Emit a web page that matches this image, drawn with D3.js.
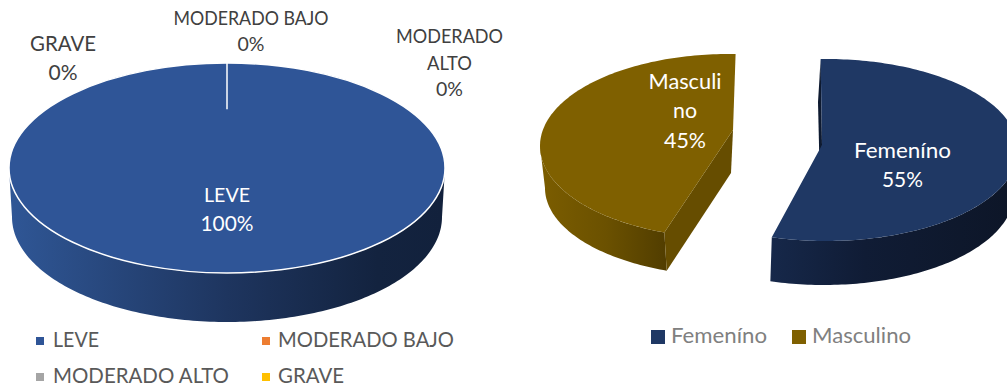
<!DOCTYPE html>
<html>
<head>
<meta charset="utf-8">
<script src="https://cdn.jsdelivr.net/npm/d3@7"></script>
<style>
  html, body { margin: 0; padding: 0; background: #fff; overflow: hidden; }
  text { font-family: Lato, "Open Sans", sans-serif; }
</style>
</head>
<body>
<svg id="chart" width="1007" height="388"></svg>
<script>
var severityNames = ['LEVE', 'MODERADO BAJO', 'MODERADO ALTO', 'GRAVE'];
var severityValues = [100, 0, 0, 0];
var severityColors = ['#2f5597', '#ed7d31', '#a5a5a5', '#ffc000'];

var sexNames = ['Femenino', 'Masculino'];
var sexLegendNames = ['Femeníno', 'Masculino'];
var sexValues = [55, 45];
var sexColors = ['#1f3864', '#7f6000'];

var svg = d3.select('#chart');
var defs = svg.append('defs');
var tau = Math.PI * 2;
var rad = d3.scaleLinear().domain([0, 360]).range([0, tau]);

var pie = d3.pie().sort(null).value(function(d) { return d; });
var line = d3.line();

// ellipse point for an angle clockwise from the top
function onEllipse(e, a) {
  return [e.cx + e.rx * Math.sin(a), e.cy - e.ry * Math.cos(a)];
}

function arcPoints(e, a0, a1) {
  var n = Math.max(2, Math.ceil(Math.abs(a1 - a0) / 0.02));
  return d3.range(n + 1).map(function(i) {
    return onEllipse(e, a0 + (a1 - a0) * i / n);
  });
}

function gradient(id, x1, x2, stops) {
  var g = defs.append('linearGradient')
    .attr('id', id)
    .attr('gradientUnits', 'userSpaceOnUse')
    .attr('x1', x1).attr('x2', x2).attr('y1', 0).attr('y2', 0);
  stops.forEach(function(s) {
    g.append('stop').attr('offset', s[0]).attr('stop-color', s[1]);
  });
  return 'url(#' + id + ')';
}

// outer wall, only the part turned to the viewer
function drawWall(g, slice, top, bottom, rot, fill) {
  var a0 = Math.max(slice.startAngle + rot, rad(90));
  var a1 = Math.min(slice.endAngle + rot, rad(270));
  if (a1 <= a0) return;
  var pts = arcPoints(top, a0, a1).concat(arcPoints(bottom, a1, a0));
  g.append('path').attr('d', line(pts) + 'Z').attr('fill', fill);
}

function drawCut(g, pts, fill) {
  g.append('path').attr('d', line(pts) + 'Z').attr('fill', fill);
}

function drawTop(g, slice, top, hub, rot, fill) {
  var pts = [hub].concat(arcPoints(top, slice.startAngle + rot, slice.endAngle + rot));
  g.append('path').attr('d', line(pts) + 'Z').attr('fill', fill);
}

// rows: text, centre x, baseline, colour, size, width
function drawLabels(rows) {
  svg.append('g').selectAll('text').data(rows).enter()
    .append('text')
    .attr('x', function(d) { return d[1]; })
    .attr('y', function(d) { return d[2]; })
    .attr('text-anchor', 'middle')
    .attr('fill', function(d) { return d[3]; })
    .attr('font-size', function(d) { return d[4]; })
    .attr('textLength', function(d) { return d[5]; })
    .attr('lengthAdjust', 'spacingAndGlyphs')
    .text(function(d) { return d[0]; });
}

function drawLegend(items, size, textFill) {
  var lg = svg.append('g').selectAll('g').data(items).enter().append('g');
  lg.append('rect')
    .attr('x', function(d) { return d.x; })
    .attr('y', function(d) { return d.y; })
    .attr('width', function(d) { return d.s; })
    .attr('height', function(d) { return d.s; })
    .attr('fill', function(d) { return d.color; });
  lg.append('text')
    .attr('x', function(d) { return d.tx; })
    .attr('y', function(d) { return d.base; })
    .attr('font-size', size)
    .attr('fill', textFill)
    .attr('textLength', function(d) { return d.w; })
    .attr('lengthAdjust', 'spacingAndGlyphs')
    .text(function(d) { return d.name; });
}

// ---- left pie
var leftTop = { cx: 227, cy: 168, rx: 218, ry: 105 };
var leftBottom = { cx: 227, cy: 217, rx: 215, ry: 105 };
var leftG = svg.append('g');
var leftSlices = pie(severityValues);
var leftSide = gradient('leftSide', 12, 442, [[0, '#2f5695'], [0.5, '#1e355f'], [0.85, '#13233f'], [1, '#12213c']]);

drawWall(leftG, leftSlices[0], leftTop, leftBottom, 0, leftSide);
drawTop(leftG, leftSlices[0], leftTop, [leftTop.cx, leftTop.cy], 0, severityColors[0]);
leftG.append('ellipse')
  .attr('cx', leftTop.cx).attr('cy', leftTop.cy)
  .attr('rx', leftTop.rx).attr('ry', leftTop.ry)
  .attr('fill', 'none').attr('stroke', '#fff').attr('stroke-width', 1.5);

// the empty slices collapse into one white spoke
leftSlices.filter(function(s) { return s.value === 0; }).slice(0, 1).forEach(function(s) {
  var p = onEllipse(leftTop, s.endAngle % tau);
  leftG.append('line')
    .attr('x1', p[0]).attr('y1', p[1])
    .attr('x2', leftTop.cx).attr('y2', d3.interpolateNumber(p[1], leftTop.cy)(0.44))
    .attr('stroke', '#fff').attr('stroke-width', 1.5);
});

var dark = '#404040';
drawLabels([
  [severityNames[1], 251, 25, dark, 19, 155],
  [severityValues[1] + '%', 251, 51, dark, 19.5, 27],
  [severityNames[3], 63, 51, dark, 21, 66],
  [severityValues[3] + '%', 63, 80, dark, 21, 29],
  ['MODERADO', 449.5, 43, dark, 19, 107],
  ['ALTO', 449.5, 70, dark, 19, 45],
  [severityValues[2] + '%', 449.5, 96, dark, 19.5, 27],
  [severityNames[0], 227, 202, '#fff', 20, 46],
  [severityValues[0] + '%', 227, 231, '#fff', 21, 53]
]);

drawLegend([
  { name: severityNames[0], color: severityColors[0], x: 36, y: 337, s: 8, tx: 53, base: 347, w: 46 },
  { name: severityNames[1], color: severityColors[1], x: 262, y: 337, s: 8, tx: 278, base: 347, w: 176 },
  { name: severityNames[2], color: severityColors[2], x: 36, y: 373, s: 8, tx: 53, base: 383, w: 176 },
  { name: severityNames[3], color: severityColors[3], x: 262, y: 373, s: 8, tx: 278, base: 383, w: 66 }
], 21, '#595959');

// ---- right pie, slices pulled apart
var sexSlices = pie(sexValues);

var femTop = { cx: 826, cy: 150, rx: 192, ry: 91 };
var femBottom = { cx: 824, cy: 193, rx: 190, ry: 92 };
var femHub = [822, 145];
var femRot = rad(-1.6);
var femG = svg.append('g');
var femSide = gradient('femSide', 770, 1007, [[0, '#16284a'], [0.4, '#101c35'], [1, '#0d1628']]);

drawCut(femG, [onEllipse(femTop, femRot), femHub, [820, 188], [818, 102]], '#0e1a30');
drawWall(femG, sexSlices[0], femTop, femBottom, femRot, femSide);
drawTop(femG, sexSlices[0], femTop, femHub, femRot, sexColors[0]);

var masTop = { cx: 729, cy: 146, rx: 189, ry: 92 };
var masBottom = { cx: 730, cy: 188, rx: 185, ry: 88 };
var masHub = [733, 130];
var masRot = rad(2);
var masG = svg.append('g');
var masSide = gradient('masSide', 545, 667, [[0, '#7a5c00'], [0.5, '#6b5100'], [1, '#513d00']]);

drawWall(masG, sexSlices[1], masTop, masBottom, masRot, masSide);
drawCut(masG, [
  onEllipse(masTop, sexSlices[1].startAngle + masRot),
  onEllipse(masBottom, sexSlices[1].startAngle + masRot),
  [731, 173], masHub
], '#664d00');
drawTop(masG, sexSlices[1], masTop, masHub, masRot, sexColors[1]);

drawLabels([
  ['Masculi', 685, 89, '#fff', 21, 73],
  ['no', 685, 118, '#fff', 21, 24],
  [sexValues[1] + '%', 685, 148, '#fff', 21, 42],
  ['Femeníno', 902.5, 158, '#fff', 21, 97],
  [sexValues[0] + '%', 902.5, 187, '#fff', 21, 41]
]);

drawLegend([
  { name: sexLegendNames[0], color: sexColors[0], x: 651, y: 330, s: 14, tx: 671, base: 343, w: 96 },
  { name: sexLegendNames[1], color: sexColors[1], x: 792, y: 330, s: 14, tx: 812, base: 343, w: 99 }
], 21, '#808080');
</script>
</body>
</html>
